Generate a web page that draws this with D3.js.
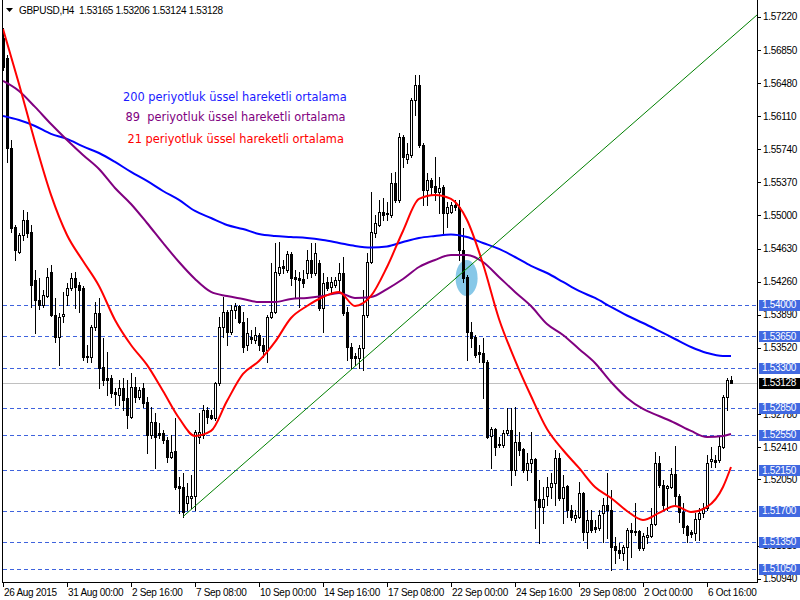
<!DOCTYPE html>
<html><head><meta charset="utf-8">
<script src="https://cdn.jsdelivr.net/npm/d3@7"></script>
<style>
html,body{margin:0;padding:0;background:#fff;}
svg{display:block;font-family:"Liberation Sans",Arial,sans-serif;}
</style></head><body>
<svg id="chart" width="800" height="600"></svg>
<script>
// ---------------- data ----------------
const symbolTitle = "GBPUSD,H4";
const lastOHLC = [1.53165, 1.53206, 1.53124, 1.53128];
const timeLabels = ["26 Aug 2015","31 Aug 00:00","2 Sep 16:00","7 Sep 08:00","10 Sep 00:00","14 Sep 16:00","17 Sep 08:00","22 Sep 00:00","24 Sep 16:00","29 Sep 08:00","2 Oct 00:00","6 Oct 16:00"];
const timeLabelBars = [0,16,32,48,64,80,96,112,128,144,160,176];
const priceTicks = [1.57220,1.56850,1.56480,1.56110,1.55740,1.55370,1.55000,1.54630,1.54260,1.53890,1.53520,1.52780,1.52410,1.52050,1.51310,1.50940];
const levels = [1.54000,1.53650,1.53300,1.52850,1.52550,1.52150,1.51700,1.51350,1.51050];
const currentPrice = 1.53128;

const open = [1.56985,1.56761,1.55755,1.54872,1.54592,1.54782,1.54950,1.54816,1.54279,1.54055,
1.53999,1.54100,1.54368,1.53888,1.53642,1.53876,1.54111,1.54190,1.54301,1.54223,
1.54190,1.53429,1.53418,1.53754,1.53910,1.53306,1.53183,1.53183,1.53027,1.52993,
1.53071,1.52960,1.52747,1.53083,1.52971,1.53071,1.52915,1.52546,1.52691,1.52568,
1.52568,1.52490,1.52300,1.52367,1.51976,1.51964,1.51785,1.51843,1.51865,1.52523,
1.52546,1.52825,1.52769,1.52736,1.53127,1.53754,1.53921,1.53698,1.53944,1.53988,
1.53809,1.53552,1.53642,1.53608,1.53664,1.53552,1.53496,1.53865,1.53921,1.54357,
1.54436,1.54391,1.54570,1.54313,1.54301,1.54290,1.54357,1.54503,1.54357,1.54469,
1.53966,1.54257,1.54201,1.54223,1.54279,1.54357,1.53921,1.53530,1.53429,1.53407,
1.53519,1.53888,1.54480,1.54805,1.54894,1.55039,1.55028,1.55006,1.55364,1.55174,
1.55878,1.55632,1.55677,1.56292,1.56460,1.55789,1.55285,1.55397,1.55330,1.55263,
1.55319,1.55028,1.55039,1.55118,1.55095,1.54614,1.54313,1.53698,1.53642,1.53474,
1.53463,1.53362,1.52535,1.52613,1.52445,1.52434,1.52568,1.52602,1.52154,1.52468,
1.52389,1.52154,1.52233,1.52277,1.51830,1.51741,1.51865,1.51964,1.52009,1.52289,
1.51841,1.51976,1.51707,1.51618,1.51629,1.51898,1.51461,1.51596,1.51517,1.51506,
1.51674,1.51763,1.51707,1.51305,1.51260,1.51226,1.51293,1.51484,1.51472,1.51472,
1.51282,1.51405,1.51416,1.51551,1.52233,1.51987,1.51953,1.51964,1.52110,1.51865,
1.51685,1.51528,1.51461,1.51450,1.51607,1.51674,1.51730,1.52255,1.52266,1.52266,
1.52412,1.52971,1.53165];
const high = [1.57097,1.56795,1.55845,1.54894,1.54805,1.55062,1.55039,1.54894,1.54391,1.54301,
1.54167,1.54413,1.54447,1.54078,1.53910,1.54145,1.54246,1.54357,1.54368,1.54257,
1.54212,1.53552,1.53776,1.54033,1.54078,1.53631,1.53474,1.53217,1.53071,1.53161,
1.53183,1.53161,1.53239,1.53194,1.53083,1.53127,1.52971,1.52859,1.52792,1.52680,
1.52602,1.52523,1.52546,1.52736,1.52076,1.52121,1.52009,1.52099,1.52602,1.52792,
1.52881,1.52859,1.52825,1.53138,1.53865,1.54089,1.53944,1.53999,1.54022,1.53999,
1.53921,1.53854,1.53720,1.53754,1.53686,1.53631,1.53888,1.54469,1.54693,1.54704,
1.54503,1.54603,1.54592,1.54391,1.54368,1.54391,1.54614,1.54693,1.54693,1.54503,
1.54357,1.54313,1.54313,1.54313,1.54469,1.54536,1.53977,1.53575,1.53463,1.53552,
1.54167,1.54581,1.55263,1.55006,1.55174,1.55196,1.55151,1.55476,1.55487,1.55923,
1.55900,1.55811,1.56314,1.56571,1.56571,1.55811,1.55476,1.55420,1.55654,1.55431,
1.55341,1.55151,1.55151,1.55174,1.55174,1.54861,1.54335,1.53809,1.53664,1.53552,
1.53631,1.53384,1.52635,1.52624,1.52523,1.52602,1.52848,1.52848,1.52859,1.52579,
1.52400,1.52345,1.52579,1.52289,1.52043,1.51964,1.52076,1.52121,1.52378,1.52345,
1.52099,1.51987,1.51763,1.51707,1.52020,1.51910,1.51707,1.51707,1.51596,1.51707,
1.51843,1.52121,1.51931,1.51405,1.51338,1.51316,1.51506,1.51562,1.51785,1.51484,
1.51450,1.51517,1.51730,1.52356,1.52311,1.52043,1.51987,1.52177,1.52423,1.51887,
1.51785,1.51539,1.51484,1.51674,1.51730,1.51785,1.52322,1.52412,1.52322,1.52523,
1.52993,1.53183,1.53206];
const low = [1.56627,1.55599,1.54816,1.54503,1.54581,1.54726,1.54760,1.53977,1.53686,1.53955,
1.53977,1.54089,1.53876,1.53586,1.53329,1.53809,1.53999,1.54167,1.53966,1.53921,
1.53384,1.53362,1.53362,1.53720,1.53071,1.53105,1.52993,1.52971,1.52881,1.52881,
1.52825,1.52624,1.52736,1.52915,1.52948,1.52859,1.52345,1.52512,1.52177,1.52512,
1.52456,1.52244,1.52289,1.51942,1.51674,1.51629,1.51707,1.51730,1.51707,1.52456,
1.52512,1.52680,1.52725,1.52714,1.53105,1.53642,1.53552,1.53675,1.53854,1.53798,
1.53474,1.53496,1.53575,1.53575,1.53496,1.53418,1.53362,1.53854,1.53910,1.54335,
1.54357,1.54368,1.54223,1.54078,1.53977,1.54201,1.54301,1.54313,1.54335,1.53944,
1.53698,1.54167,1.54134,1.54201,1.54134,1.53888,1.53384,1.53295,1.53329,1.53295,
1.53273,1.53865,1.54469,1.54760,1.54883,1.54950,1.54950,1.54984,1.55151,1.55151,
1.55543,1.55587,1.55654,1.56124,1.55766,1.55118,1.55118,1.55230,1.55174,1.55028,
1.54805,1.54872,1.55028,1.55062,1.54503,1.54257,1.53384,1.53530,1.53418,1.53362,
1.52960,1.52512,1.52177,1.52322,1.52412,1.52412,1.52546,1.51987,1.52099,1.52322,
1.52132,1.52043,1.52132,1.51506,1.51338,1.51562,1.51763,1.51843,1.51763,1.51819,
1.51562,1.51629,1.51595,1.51573,1.51618,1.51372,1.51282,1.51461,1.51461,1.51484,
1.51349,1.51394,1.51036,1.51115,1.51170,1.51148,1.51047,1.51182,1.51428,1.51260,
1.51260,1.51338,1.51405,1.51539,1.51964,1.51707,1.51707,1.51953,1.51763,1.51573,
1.51450,1.51349,1.51405,1.51372,1.51372,1.51629,1.51707,1.52188,1.52188,1.52244,
1.52400,1.52825,1.53124];
const close = [1.56661,1.55755,1.54861,1.54614,1.54782,1.54950,1.54805,1.54223,1.54055,1.53999,
1.54111,1.54313,1.53888,1.53642,1.53865,1.53899,1.54190,1.54301,1.54201,1.54167,
1.53418,1.53418,1.53754,1.53910,1.53295,1.53161,1.53161,1.53015,1.53004,1.53071,
1.52937,1.52769,1.53083,1.52971,1.53049,1.52904,1.52546,1.52691,1.52523,1.52546,
1.52490,1.52300,1.52356,1.51964,1.51953,1.51685,1.51865,1.51865,1.52579,1.52579,
1.52825,1.52747,1.52736,1.53127,1.53754,1.53921,1.53698,1.53944,1.53988,1.53809,
1.53530,1.53686,1.53619,1.53664,1.53552,1.53485,1.53865,1.53921,1.54368,1.54424,
1.54413,1.54570,1.54301,1.54290,1.54279,1.54246,1.54503,1.54357,1.54581,1.53966,
1.54246,1.54190,1.54257,1.54279,1.54357,1.53910,1.53530,1.53407,1.53407,1.53519,
1.53888,1.54480,1.54816,1.54916,1.55039,1.55006,1.55017,1.55364,1.55174,1.55878,
1.55654,1.55688,1.56292,1.56460,1.55789,1.55285,1.55397,1.55319,1.55263,1.55308,
1.55028,1.55095,1.55118,1.55095,1.54614,1.54301,1.53698,1.53631,1.53440,1.53452,
1.53362,1.52523,1.52613,1.52412,1.52434,1.52568,1.52602,1.52154,1.52468,1.52378,
1.52154,1.52233,1.52277,1.51819,1.51741,1.51830,1.51964,1.52009,1.52289,1.51841,
1.51964,1.51707,1.51629,1.51651,1.51898,1.51461,1.51596,1.51484,1.51495,1.51651,
1.51763,1.51707,1.51293,1.51260,1.51226,1.51293,1.51484,1.51461,1.51461,1.51282,
1.51416,1.51428,1.51551,1.52233,1.51987,1.51763,1.51976,1.52110,1.51865,1.51685,
1.51517,1.51428,1.51439,1.51607,1.51674,1.51730,1.52233,1.52277,1.52244,1.52423,
1.52971,1.53161,1.53128];

const emaBars = [0,4,8,12,16,20,24,28,32,36,40,44,48,52,56,60,64,68,72,76,80,84,88,92,96,100,104,108,112,116,120,124,128,132,136,140,144,148,152,156,160,164,168,172,176,180,182];
const ema200 = [1.56113,1.56068,1.56001,1.55912,1.55856,1.55772,1.55699,1.55599,1.55487,1.55386,
1.55274,1.55174,1.55051,1.54972,1.54894,1.54849,1.54793,1.54771,1.54760,1.54749,
1.54726,1.54693,1.54659,1.54642,1.54654,1.54704,1.54749,1.54771,1.54788,1.54760,
1.54693,1.54626,1.54536,1.54436,1.54357,1.54257,1.54156,1.54078,1.53977,1.53882,
1.53798,1.53709,1.53619,1.53530,1.53463,1.53429,1.53429];
const ema89 = [1.56504,1.56392,1.56214,1.56023,1.55845,1.55677,1.55520,1.55308,1.55129,1.54916,
1.54693,1.54480,1.54290,1.54145,1.54100,1.54067,1.54033,1.54033,1.54067,1.54078,
1.54100,1.54134,1.54078,1.54089,1.54178,1.54290,1.54424,1.54503,1.54559,1.54559,
1.54480,1.54313,1.54145,1.53988,1.53787,1.53664,1.53507,1.53351,1.53138,1.52960,
1.52837,1.52758,1.52680,1.52591,1.52523,1.52535,1.52557];
const ema21 = [1.57086,1.56471,1.55822,1.55230,1.54782,1.54491,1.54212,1.53832,1.53552,1.53329,
1.53038,1.52736,1.52535,1.52591,1.52926,1.53228,1.53373,1.53586,1.53854,1.53988,
1.54089,1.54145,1.53988,1.54100,1.54424,1.54827,1.55185,1.55230,1.55185,1.54950,
1.54458,1.53843,1.53384,1.52982,1.52613,1.52378,1.52177,1.51964,1.51841,1.51696,
1.51595,1.51674,1.51752,1.51685,1.51741,1.51964,1.52188];

const trendBars = [45, 188.5];
const trendPrices = [1.51633, 1.57242];
const markBar = 115.9, markPrice = 1.54302;

const legendLabels = ["200 periyotluk üssel hareketli ortalama","89  periyotluk üssel hareketli ortalama","21 periyotluk üssel hareketli ortalama"];
const legendColors = ["#1a1aff","#800080","#ff0000"];

// ---------------- drawing ----------------
const svg = d3.select("#chart");
const x = d3.scaleLinear().domain([0, 182]).range([3, 731]);
const y = d3.scaleLinear().domain([1.50902, 1.57376]).range([582, 3]);
const py = v => Math.round(y(v)) + 0.5;

svg.append("rect").attr("width", 800).attr("height", 600).attr("fill", "#fff");
svg.append("defs").append("clipPath").attr("id", "clip")
  .append("rect").attr("x", 3).attr("y", 0).attr("width", 754).attr("height", 582);
const g = svg.append("g").attr("clip-path", "url(#clip)");

// marker ellipse
g.append("ellipse").attr("cx", x(markBar)).attr("cy", y(markPrice))
  .attr("rx", 11).attr("ry", 18).attr("fill", "#87c8e8");

// horizontal levels
g.append("g").attr("shape-rendering", "crispEdges").selectAll("line").data(levels).join("line")
  .attr("x1", 3).attr("x2", 757).attr("y1", d => py(d)).attr("y2", d => py(d))
  .attr("stroke", "#3f63dd").attr("stroke-width", 1).attr("stroke-dasharray", "4,3");
g.append("line").attr("shape-rendering", "crispEdges")
  .attr("x1", 3).attr("x2", 757).attr("y1", py(currentPrice)).attr("y2", py(currentPrice))
  .attr("stroke", "#c0c0c0");

// candles
const candles = d3.range(open.length).map(i => ({i, o: open[i], h: high[i], l: low[i], c: close[i]}));
const cg = g.append("g").attr("shape-rendering", "crispEdges");
cg.selectAll("rect.wick").data(candles).join("rect").attr("class", "wick")
  .attr("x", d => Math.round(x(d.i)))
  .attr("y", d => Math.round(y(d.h)))
  .attr("width", 1)
  .attr("height", d => Math.max(1, Math.round(y(d.l)) - Math.round(y(d.h)) + 1))
  .attr("fill", "#000");
cg.selectAll("rect.body").data(candles).join("rect").attr("class", "body")
  .attr("x", d => Math.round(x(d.i)) - 1)
  .attr("y", d => Math.round(y(Math.max(d.o, d.c))))
  .attr("width", 3)
  .attr("height", d => Math.max(1, Math.round(y(Math.min(d.o, d.c))) - Math.round(y(Math.max(d.o, d.c))) + 1))
  .attr("fill", "#000");
cg.selectAll("rect.hollow").data(candles.filter(d => d.c > d.o &&
    Math.round(y(d.o)) - Math.round(y(d.c)) >= 2)).join("rect").attr("class", "hollow")
  .attr("x", d => Math.round(x(d.i)))
  .attr("y", d => Math.round(y(d.c)) + 1)
  .attr("width", 1)
  .attr("height", d => Math.round(y(d.o)) - Math.round(y(d.c)) - 1)
  .attr("fill", "#fff");

// moving averages
const line = d3.line().x((d, k) => x(emaBars[k])).y(d => y(d)).curve(d3.curveMonotoneX);
[[ema200, "#0000ff"], [ema89, "#800080"], [ema21, "#ff0000"]].forEach(([s, col]) => {
  g.append("path").attr("d", line(s)).attr("fill", "none").attr("stroke", col).attr("stroke-width", 2);
});

// trend line
g.append("line").attr("x1", x(trendBars[0])).attr("y1", y(trendPrices[0]))
  .attr("x2", x(trendBars[1])).attr("y2", y(trendPrices[1]))
  .attr("stroke", "#008000").attr("stroke-width", 1);

// frame
const fr = svg.append("g").attr("shape-rendering", "crispEdges").attr("stroke", "#000");
fr.append("line").attr("x1", 2.5).attr("x2", 2.5).attr("y1", 0).attr("y2", 583);
fr.append("line").attr("x1", 757.5).attr("x2", 757.5).attr("y1", 0).attr("y2", 583);
fr.append("line").attr("x1", 2).attr("x2", 758).attr("y1", 582.5).attr("y2", 582.5);

// price axis
const yAx = svg.append("g");
yAx.selectAll("line").data(priceTicks).join("line").attr("shape-rendering", "crispEdges")
  .attr("x1", 757).attr("x2", 761).attr("y1", d => py(d)).attr("y2", d => py(d)).attr("stroke", "#000");
yAx.selectAll("text").data(priceTicks).join("text")
  .attr("x", 763).attr("y", d => y(d)).attr("dy", "0.35em")
  .attr("font-size", 10).attr("letter-spacing", "-0.3").attr("fill", "#000")
  .text(d => d.toFixed(5));

// time axis
const xAx = svg.append("g");
xAx.selectAll("line").data(timeLabelBars).join("line").attr("shape-rendering", "crispEdges")
  .attr("x1", d => Math.round(x(d)) + 0.5).attr("x2", d => Math.round(x(d)) + 0.5)
  .attr("y1", 582).attr("y2", 587).attr("stroke", "#000");
xAx.selectAll("text").data(timeLabels).join("text")
  .attr("x", (d, k) => x(timeLabelBars[k]) + 1).attr("y", 596)
  .attr("font-size", 10).attr("letter-spacing", "-0.3").attr("fill", "#000")
  .text(d => d);

// level labels
const lv = svg.append("g");
lv.selectAll("rect").data(levels).join("rect").attr("shape-rendering", "crispEdges")
  .attr("x", 759).attr("y", d => Math.round(y(d)) - 5).attr("width", 41).attr("height", 11)
  .attr("fill", "#4169e1");
lv.selectAll("text").data(levels).join("text")
  .attr("x", 762).attr("y", d => y(d)).attr("dy", "0.35em")
  .attr("font-size", 10).attr("letter-spacing", "-0.3").attr("fill", "#fff")
  .text(d => d.toFixed(5));
svg.append("rect").attr("shape-rendering", "crispEdges")
  .attr("x", 759).attr("y", Math.round(y(currentPrice)) - 5).attr("width", 41).attr("height", 11).attr("fill", "#000");
svg.append("text").attr("x", 762).attr("y", y(currentPrice)).attr("dy", "0.35em")
  .attr("font-size", 10).attr("letter-spacing", "-0.3").attr("fill", "#fff").text(currentPrice.toFixed(5));

// title
svg.append("path").attr("d", "M6,8 L13,8 L9.5,12 Z").attr("fill", "#000");
svg.append("text").attr("x", 19).attr("y", 14).attr("font-size", 10).attr("letter-spacing", "-0.3")
  .attr("fill", "#000").style("white-space", "pre")
  .text(symbolTitle + "  " + lastOHLC.map(v => v.toFixed(5)).join(" "));

// legend
const legX = [123, 125.5, 127.5], legY = [100.5, 120.5, 142.5];
svg.selectAll("text.leg").data(legendLabels).join("text").attr("class", "leg")
  .attr("x", (d, k) => legX[k]).attr("y", (d, k) => legY[k])
  .attr("font-family", "'DejaVu Sans', sans-serif").attr("font-size", 11.4)
  .attr("fill", (d, k) => legendColors[k]).style("white-space", "pre")
  .text(d => d);
</script>
</body></html>
